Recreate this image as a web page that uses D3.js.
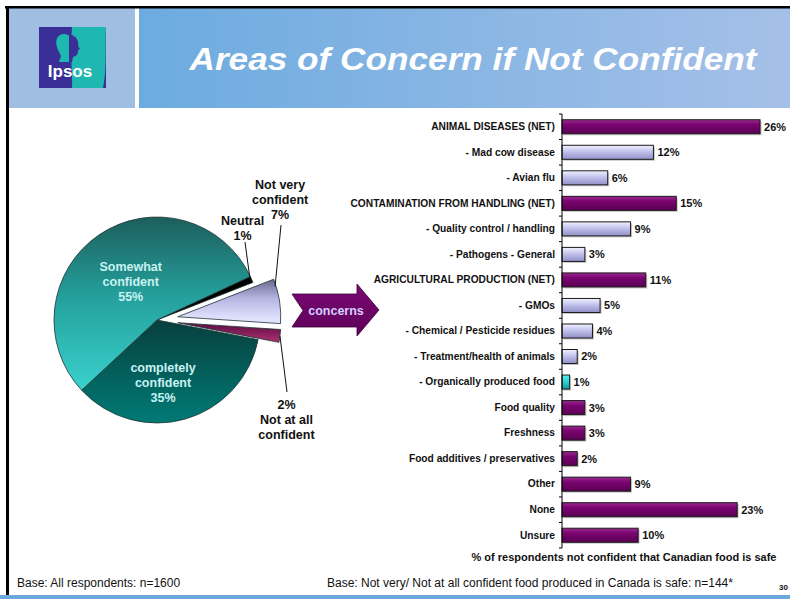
<!DOCTYPE html>
<html>
<head>
<meta charset="utf-8">
<script src="https://cdn.jsdelivr.net/npm/d3@7"></script>
<style>
  html, body { margin: 0; padding: 0; background: #fff; overflow: hidden; }
  svg { display: block; font-family: "Liberation Sans", Arial, sans-serif; }
</style>
</head>
<body>
<svg id="chart" width="790" height="599"></svg>
<script>
// ---- data ----
const titleText = "Areas of Concern if Not Confident";

const pieLabels = ["Neutral", "Not very confident", "Not at all confident", "completely confident", "Somewhat confident"];
const pieValues = [1, 7, 2, 35, 55];

const concernLabels = [
  "ANIMAL DISEASES (NET)",
  "- Mad cow disease",
  "- Avian flu",
  "CONTAMINATION FROM HANDLING (NET)",
  "- Quality control / handling",
  "- Pathogens - General",
  "AGRICULTURAL PRODUCTION (NET)",
  "- GMOs",
  "- Chemical / Pesticide residues",
  "- Treatment/health of animals",
  "- Organically produced food",
  "Food quality",
  "Freshness",
  "Food additives / preservatives",
  "Other",
  "None",
  "Unsure"
];
const concernValues = [26, 12, 6, 15, 9, 3, 11, 5, 4, 2, 1, 3, 3, 2, 9, 23, 10];
const concernKinds = ["main", "sub", "sub", "main", "sub", "sub", "main", "sub", "sub", "sub", "focus",
                      "main", "main", "main", "main", "main", "main"];

const axisTitle = "% of respondents not confident that Canadian food is safe";
const footLeft = "Base: All respondents: n=1600";
const footRight = "Base: Not very/ Not at all confident food produced in Canada is safe: n=144*";
const pageNumber = "30";

// ---- page frame ----
const svg = d3.select("#chart");
const defs = svg.append("defs");

function linGrad(id, stops, x1 = 0, y1 = 0, x2 = 0, y2 = 1, units) {
  const g = defs.append("linearGradient").attr("id", id)
    .attr("x1", x1).attr("y1", y1).attr("x2", x2).attr("y2", y2);
  if (units) g.attr("gradientUnits", units);
  stops.forEach(([o, c]) => g.append("stop").attr("offset", o).attr("stop-color", c));
  return `url(#${id})`;
}

const headGrad = linGrad("headGrad", [[0, "#6cabe0"], [1, "#a5c0e8"]], 0, 0, 1, 0);

svg.append("rect").attr("x", 9).attr("y", 8).attr("width", 126).attr("height", 100).attr("fill", "#a0bde2");
svg.append("rect").attr("x", 139).attr("y", 8).attr("width", 651).attr("height", 100).attr("fill", headGrad);
svg.append("rect").attr("x", 5).attr("y", 6).attr("width", 785).attr("height", 2.5).attr("fill", "#000");
svg.append("rect").attr("x", 6).attr("y", 6).attr("width", 3).attr("height", 589).attr("fill", "#000");
svg.append("rect").attr("x", 0).attr("y", 595).attr("width", 790).attr("height", 4).attr("fill", "#6ca8dc");

// logo
const logo = svg.append("g");
logo.append("rect").attr("x", 39).attr("y", 27).attr("width", 67).attr("height", 61).attr("fill", "#3a2f96");
logo.append("path").attr("d", "M72,27 L106,27 C105,45 107,70 103,88 L72,88 C73,75 70,62 72,27 Z").attr("fill", "#1fb8b0");
// head silhouette
logo.append("path")
  .attr("d", "M64,34 C57,34 55,41 57,47 C58,51 60,53 61,56 L59,62 L70,62 L69,57 C72,55 74,51 73,46 C73,39 70,34 64,34 Z")
  .attr("fill", "#1fb8b0");
logo.append("path")
  .attr("d", "M72,35 C77,37 79,42 78,46 L80,49 L78,50 C78,54 77,56 73,57 L72,62 L69,62 L69,35 Z")
  .attr("fill", "#3a2f96");
logo.append("text").attr("x", 70).attr("y", 77).attr("text-anchor", "middle")
  .attr("fill", "#fff").attr("font-size", 17).attr("font-weight", "bold").text("Ipsos");

// title
svg.append("text").attr("x", 473).attr("y", 70).attr("text-anchor", "middle")
  .attr("fill", "#fff").attr("font-size", 31).attr("font-weight", "bold").attr("font-style", "italic")
  .attr("textLength", 567).attr("lengthAdjust", "spacingAndGlyphs")
  .text(titleText);

// ---- pie ----
const pieCx = 157, pieCy = 320, pieR = 103;
const startA = 65 * Math.PI / 180;
const pie = d3.pie().sort(null).value(d => d).startAngle(startA).endAngle(startA + 2 * Math.PI);
const arcs = pie(pieValues);
const arcGen = d3.arc().innerRadius(0).outerRadius(pieR);
const explode = { "Not very confident": 21, "Not at all confident": 21 };

// gradients are in each slice's own coordinates (origin at the slice apex)
const U = "userSpaceOnUse";
const sliceFill = {
  "Neutral": "#000",
  "Not very confident": linGrad("gNotVery", [[0, "#5c5c80"], [0.5, "#b4b4e2"], [1, "#e2e2ff"]], 0, -40, 0, 2, U),
  "Not at all confident": linGrad("gNotAll", [[0, "#5a0c40"], [1, "#a82e70"]], 0, 0, 0, 18, U),
  "completely confident": linGrad("gComp", [[0, "#073f3d"], [0.6, "#036460"], [1, "#007a76"]], 0, 0, 0, pieR, U),
  "Somewhat confident": linGrad("gSome", [[0, "#1c5e5c"], [0.45, "#25a09c"], [1, "#3ad4d0"]], 0, -pieR, 0, 75, U)
};

function polar(a, r, cx, cy) { return [cx + Math.sin(a) * r, cy - Math.cos(a) * r]; }
function sliceCenter(d) {
  const off = explode[pieLabels[d.index]] || 0;
  const mid = (d.startAngle + d.endAngle) / 2;
  return polar(mid, off, pieCx, pieCy);
}

const pieG = svg.append("g");
pieG.selectAll("path.slice").data(arcs).join("path")
  .attr("class", "slice")
  .attr("transform", d => `translate(${sliceCenter(d)})`)
  .attr("d", arcGen)
  .attr("fill", d => sliceFill[pieLabels[d.index]])
  .attr("stroke", "#1e3434").attr("stroke-width", 0.8).attr("stroke-linejoin", "round");

// slice labels (polar placement around the pie centre)
const deg = Math.PI / 180;
const pieText = {
  "Somewhat confident":   { lines: ["Somewhat", "confident", "55%"], shift: 0, r: 47, color: "#c8f2f2" },
  "completely confident": { lines: ["completely", "confident", "35%"], shift: 10.5, r: 63, color: "#c8f2f2" },
  "Neutral":              { lines: ["Neutral", "1%"], shift: -24, r: 126, color: "#111" },
  "Not very confident":   { lines: ["Not very", "confident", "7%"], shift: -35.5, r: 172, color: "#111" },
  "Not at all confident": { lines: ["2%", "Not at all", "confident"], shift: 30, r: 163, color: "#111" }
};
arcs.forEach(d => {
  const name = pieLabels[d.index];
  const spec = pieText[name];
  const mid = (d.startAngle + d.endAngle) / 2;
  const [lx, ly] = polar(mid + spec.shift * deg, spec.r, pieCx, pieCy);
  const lh = 15;
  const t = svg.append("text").attr("text-anchor", "middle").attr("fill", spec.color)
    .attr("font-size", 12.5).attr("font-weight", "bold");
  spec.lines.forEach((s, i) => {
    t.append("tspan").attr("x", lx).attr("y", ly + (i - (spec.lines.length - 1) / 2) * lh + 4.5).text(s);
  });
});

// leader lines
function leader(x1, y1, x2, y2) {
  svg.append("line").attr("x1", x1).attr("y1", y1).attr("x2", x2).attr("y2", y2)
    .attr("stroke", "#111").attr("stroke-width", 1);
}
{
  const n = arcs[0];
  const [ex, ey] = polar(n.startAngle + 0.5 * deg, pieR - 1, pieCx, pieCy);
  leader(245, 242, ex, ey);
  const nv = arcs[1];
  const [cx1, cy1] = sliceCenter(nv);
  const [ex1, ey1] = polar(nv.startAngle + 4 * deg, pieR - 1, cx1, cy1);
  leader(281, 225, ex1, ey1);
  const na = arcs[2];
  const [cx2, cy2] = sliceCenter(na);
  const [ex2, ey2] = polar((na.startAngle + na.endAngle) / 2, pieR, cx2, cy2);
  leader(287, 392, ex2, ey2);
}

// "concerns" arrow
const arrowFill = linGrad("gArrow", [[0, "#7a0a72"], [1, "#5e005a"]]);
svg.append("path")
  .attr("d", "M292,294 L357,294 L357,284 L379,310 L357,336 L357,327 L292,327 L303,310.5 Z")
  .attr("fill", arrowFill).attr("stroke", "#3a0036").attr("stroke-width", 0.8);
svg.append("text").attr("x", 336).attr("y", 315).attr("text-anchor", "middle")
  .attr("fill", "#d4d0ff").attr("font-size", 12.5).attr("font-weight", "bold").text("concerns");

// ---- bar chart ----
const x = d3.scaleLinear().domain([0, 30]).range([562, 790.5]);
const y = d3.scaleBand().domain(concernLabels).range([114, 548]).paddingInner(0.45).paddingOuter(0.225);

const barFill = {
  main: linGrad("gMain", [[0, "#9c2a90"], [0.35, "#7a0470"], [1, "#5a0052"]]),
  sub: linGrad("gSub", [[0, "#f2f2ff"], [0.5, "#bdbdea"], [1, "#9090c6"]]),
  focus: linGrad("gFocus", [[0, "#5ff0f0"], [0.5, "#2ad0d0"], [1, "#109c9c"]])
};

const bars = svg.append("g");
const rows = concernLabels.map((c, i) => ({ c, v: concernValues[i], k: concernKinds[i] }));

// soft drop shadow under each bar
bars.selectAll("rect.shadow").data(rows).join("rect").attr("class", "shadow")
  .attr("x", x(0) + 1.5).attr("y", d => y(d.c) + 1.5)
  .attr("width", d => x(d.v) - x(0)).attr("height", y.bandwidth())
  .attr("fill", "#9a9a9a").attr("opacity", 0.55);
bars.selectAll("rect.bar").data(rows).join("rect").attr("class", "bar")
  .attr("x", x(0)).attr("y", d => y(d.c))
  .attr("width", d => x(d.v) - x(0)).attr("height", y.bandwidth())
  .attr("fill", d => barFill[d.k]).attr("stroke", "#1a1a1a").attr("stroke-width", 1);

bars.selectAll("text.val").data(rows).join("text").attr("class", "val")
  .attr("x", d => x(d.v) + 4).attr("y", d => y(d.c) + y.bandwidth() / 2)
  .attr("dy", "0.36em").attr("font-size", 11).attr("font-weight", "bold").attr("fill", "#111")
  .text(d => d.v + "%");

// category axis
const yAxis = d3.axisLeft(y).tickSize(0).tickPadding(7);
const axG = svg.append("g").attr("transform", `translate(${x(0)},0)`).call(yAxis);
axG.select(".domain").remove();
axG.selectAll("text").attr("font-size", 10.2).attr("font-weight", "bold").attr("fill", "#111")
  .attr("font-family", "Liberation Sans, Arial, sans-serif");
axG.append("line").attr("x1", 0).attr("x2", 0).attr("y1", y.range()[0]).attr("y2", y.range()[1])
  .attr("stroke", "#000").attr("stroke-width", 1);
const step = y.step();
axG.selectAll("line.tick-b").data(d3.range(concernLabels.length + 1)).join("line").attr("class", "tick-b")
  .attr("x1", -3).attr("x2", 0)
  .attr("y1", i => y.range()[0] + i * step).attr("y2", i => y.range()[0] + i * step)
  .attr("stroke", "#000").attr("stroke-width", 1);

svg.append("text").attr("x", 624).attr("y", 561).attr("text-anchor", "middle")
  .attr("font-size", 11).attr("font-weight", "bold").attr("fill", "#111").text(axisTitle);

// ---- footer ----
svg.append("text").attr("x", 17).attr("y", 587).attr("font-size", 12).attr("fill", "#111").text(footLeft);
svg.append("text").attr("x", 327).attr("y", 587).attr("font-size", 12).attr("fill", "#111").text(footRight);
svg.append("text").attr("x", 788).attr("y", 590).attr("text-anchor", "end")
  .attr("font-size", 8).attr("font-weight", "bold").attr("fill", "#111").text(pageNumber);
</script>
</body>
</html>
